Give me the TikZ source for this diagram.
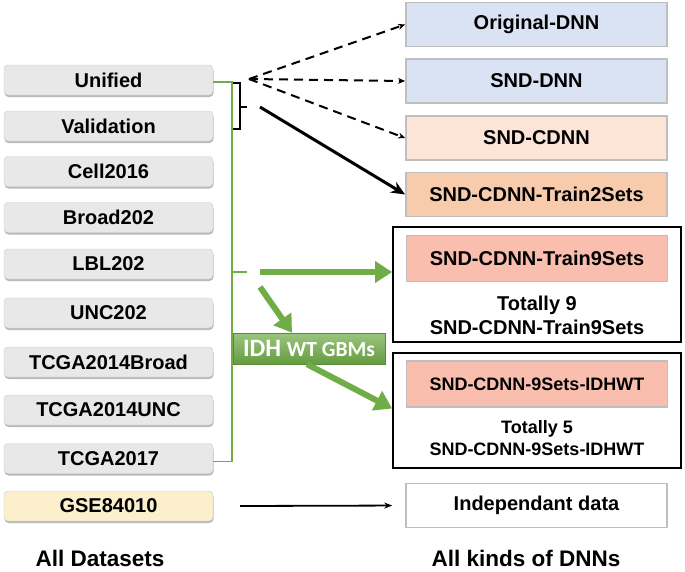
\documentclass[tikz,border=0pt]{standalone}
\usepackage{fontspec}
\setmainfont{Liberation Sans}
\newfontfamily\calibri{Carlito}
\usepackage{tikz}
\usetikzlibrary{%
  arrows.meta,%
  shadows,%
  positioning%
}
\definecolor{boxgray}{HTML}{E8E8E8}
\definecolor{boxyellow}{HTML}{FBEFCC}
\definecolor{boxblue}{HTML}{DAE3F3}
\definecolor{boxpeach}{HTML}{FCE4D6}
\definecolor{boxorange}{HTML}{F8CBAD}
\definecolor{boxsalmon}{HTML}{F9BEAE}
\definecolor{grn}{HTML}{70AD47}

\begin{document}
\begin{tikzpicture}[x=1pt,y=-1pt]
 \useasboundingbox (0,0) rectangle (685,571);
 \begin{scope}[font=\fontsize{20}{24}\selectfont\bfseries,
   dataset/.style={draw=black!20,fill=boxgray,rounded corners=4pt,minimum width=209pt,minimum height=30pt,inner sep=0pt,
     drop shadow={shadow xshift=0.5pt,shadow yshift=-2pt,fill=black!45,opacity=.6}},
   dnn/.style={draw=black!25,line width=1.8pt,minimum width=261pt,minimum height=44pt,inner sep=0pt},
   group/.style={draw=black,line width=1.8pt,minimum width=288pt,minimum height=115pt,inner sep=0pt},
   grnline/.style={grn,line width=1.8pt},
   blkline/.style={black,line width=1.8pt},
   grnarrow/.style={grn,line width=6pt,-{Triangle[length=17pt,width=21pt]}},
   dasharrow/.style={black,line width=2pt,dash pattern=on 9pt off 6pt,-{Stealth[length=7pt,width=6pt]}}]
   %Datensaetze links
   \node[dataset] (unified) at (108.5,80) {Unified};
   \node[dataset] (valid) at (108.5,126) {Validation};
   \node[dataset] (cell16) at (108.5,171.5) {Cell2016};
   \node[dataset] (broad) at (108.5,217.5) {Broad202};
   \node[dataset] (lbl) at (108.5,264) {LBL202};
   \node[dataset] (unc) at (108.5,313) {UNC202};
   \node[dataset] (tcga14b) at (108.5,362) {TCGA2014Broad};
   \node[dataset] (tcga14u) at (108.5,410) {TCGA2014UNC};
   \node[dataset] (tcga17) at (108.5,458.5) {TCGA2017};
   \node[dataset,fill=boxyellow] (gse) at (108.5,506) {GSE84010};
   \node[anchor=base,inner sep=0pt] (alldata) at (100,566) {\fontsize{22.5}{26}\selectfont All Datasets};

   %DNNs rechts
   \node[dnn,fill=boxblue] (orig) at (536.5,24.5) {Original-DNN};
   \node[dnn,fill=boxblue] (snd) at (536.5,81) {SND-DNN};
   \node[dnn,fill=boxpeach] (sndc) at (536.5,138) {SND-CDNN};
   \node[dnn,fill=boxorange] (train2) at (536.5,194.5) {SND-CDNN-Train2Sets};
   \node[group] (grp9) at (537,284.5) {};
   \node[dnn,fill=boxsalmon,minimum height=46pt] (train9) at (537,258.5) {SND-CDNN-Train9Sets};
   \node[align=center] (tot9) at (537,315) {Totally 9\\SND-CDNN-Train9Sets};
   \node[group] (grp5) at (537,410.5) {};
   \node[dnn,fill=boxsalmon,minimum height=46pt,font=\fontsize{18}{22}\selectfont\bfseries] (idhwt) at (537,384) {SND-CDNN-9Sets-IDHWT};
   \node[align=center,font=\fontsize{18}{22}\selectfont\bfseries] (tot5) at (537,438) {Totally 5\\SND-CDNN-9Sets-IDHWT};
   \node[dnn,line width=1.5pt] (indep) at (536.5,505.5) {Independant data};
   \node[anchor=base,inner sep=0pt] (alldnn) at (526,566) {\fontsize{22.5}{26}\selectfont All kinds of DNNs};

   %IDH-Kasten
   \node[draw=grn!80!black,top color=grn!70!white,bottom color=grn!90!black,minimum width=152pt,minimum height=31pt,inner sep=0pt,
     text=white,font=\calibri\bfseries\fontsize{25}{27}\selectfont] (idh) at (309,348.5) {IDH {\fontsize{21.5}{23}\selectfont WT GBMs}};

   %Klammern
   \coordinate (grnbar) at (232,272);
   \coordinate (grntip) at (247,272);
   \draw[grnline] ([yshift=-2pt]unified.east) -| (grnbar) |- ([yshift=-3pt]tcga17.east);
   \draw[grnline] (grnbar) -- (grntip);
   \coordinate (blkbar) at (240,107);
   \coordinate (blktip) at (247,107);
   \draw[blkline] (233,83) -- (240,83) -- (240,129) -- (233,129);
   \draw[blkline] (blkbar) -- (blktip);

   %Pfeile
   \coordinate (fan) at (249,79);
   \draw[dasharrow] (fan) -- (orig.west);
   \draw[dasharrow] (fan) -- (snd.west);
   \draw[dasharrow] (fan) -- (sndc.west);
   \coordinate (blkstart) at (260,107);
   \draw[black,line width=3pt,-{Stealth[length=14pt,width=12pt]}] (blkstart) -- (train2.west);
   \coordinate (grnstart) at (260,272);
   \draw[grnarrow] (grnstart) -- (grnstart -| grp9.west);
   \coordinate (grndown) at (260,287);
   \draw[grnarrow] (grndown) -- ([xshift=-17pt]idh.north);
   \draw[grnarrow] ([xshift=-2pt]idh.south) -- ([yshift=2pt]grp5.west);
   \coordinate (gsestart) at (240,506);
   \draw[black,line width=1.8pt,shorten >=13pt,-{Stealth[length=8pt]}] (gsestart) -- (indep.west);
 \end{scope}
\end{tikzpicture}
\end{document}
